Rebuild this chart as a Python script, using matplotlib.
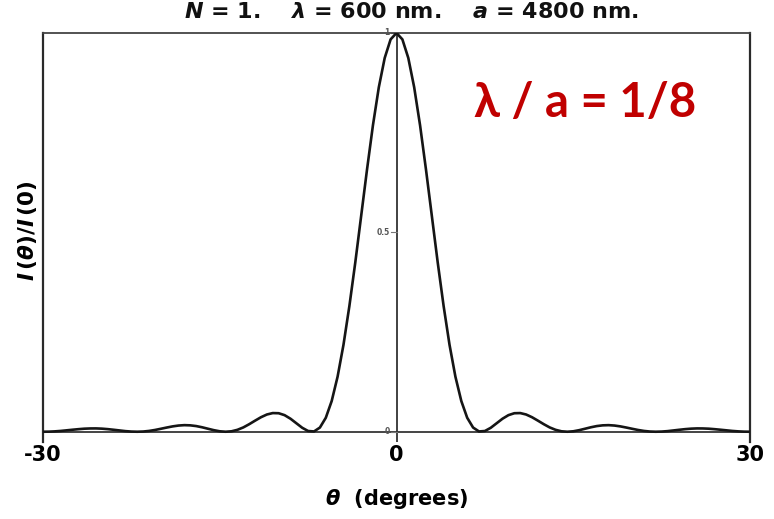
import numpy as np
import matplotlib
matplotlib.use("Agg")
import matplotlib.pyplot as plt

plt.rcParams['font.family'] = ['DejaVu Sans']
plt.rcParams['mathtext.fontset'] = 'custom'
plt.rcParams['mathtext.rm'] = 'DejaVu Sans:bold'
plt.rcParams['mathtext.it'] = 'DejaVu Sans:italic:bold'
plt.rcParams['mathtext.bf'] = 'DejaVu Sans:bold'

# angle (degrees), positive side; pattern is symmetric about 0
theta_pos = [0.0, 0.5, 1.0, 1.5, 2.0, 2.5, 3.0, 3.5, 4.0, 4.5, 5.0, 5.5, 6.0, 6.5,
             7.0, 7.5, 8.0, 8.5, 9.0, 9.5, 10.0, 10.5, 11.0, 11.5, 12.0, 12.5, 13.0,
             13.5, 14.0, 14.5, 15.0, 15.5, 16.0, 16.5, 17.0, 17.5, 18.0, 18.5, 19.0,
             19.5, 20.0, 20.5, 21.0, 21.5, 22.0, 22.5, 23.0, 23.5, 24.0, 24.5, 25.0,
             25.5, 26.0, 26.5, 27.0, 27.5, 28.0, 28.5, 29.0, 29.5, 30.0]
# normalised intensity I(theta)/I(0)
intensity_pos = [1.0, 0.984, 0.9375, 0.864, 0.7685, 0.658, 0.541, 0.424, 0.315, 0.218,
                 0.138, 0.077, 0.035, 0.0105, 0.0007, 0.0018, 0.0099, 0.0213, 0.0327,
                 0.0416, 0.0464, 0.0468, 0.0432, 0.0364, 0.0278, 0.0189, 0.0108, 0.0048,
                 0.0011, 0.0, 0.0011, 0.0039, 0.0075, 0.0112, 0.0142, 0.0160, 0.0165,
                 0.0155, 0.0134, 0.0105, 0.0074, 0.0044, 0.0020, 0.0005, 0.0, 0.0004,
                 0.0015, 0.0032, 0.0049, 0.0065, 0.0077, 0.0083, 0.0082, 0.0076, 0.0064,
                 0.0050, 0.0035, 0.0020, 0.0009, 0.0002, 0.0]

x_ticks = [-30, 0, 30]
x_ticklabels = ['-30', '0', '30']
inner_ticks = [0, 0.5, 1]
inner_ticklabels = ['0', '0.5', '1']

theta = [-t for t in theta_pos[::-1]] + theta_pos[1:]
intensity = intensity_pos[::-1] + intensity_pos[1:]

fig = plt.figure(figsize=(7.74, 5.19), dpi=100)
ax = fig.add_axes([43 / 774, 1 - 441.7 / 519, (750 - 43) / 774, (441.7 - 33) / 519])

ax.plot(theta, intensity, color='#151515', lw=1.9, solid_capstyle='round', zorder=3)
ax.set_xlim(-30, 30)
ax.set_ylim(-0.025, 1.0)

spine_col = '#2a2a2a'
for s in ['left', 'right']:
    ax.spines[s].set_color(spine_col)
    ax.spines[s].set_linewidth(1.6)
ax.spines['top'].set_color('#444444')
ax.spines['top'].set_linewidth(1.3)
ax.spines['bottom'].set_visible(False)
ax.axhline(0, color='#444444', lw=1.4, zorder=2)
ax.axvline(0, color='#333333', lw=1.3, zorder=2)

ax.set_xticks(x_ticks)
ax.set_xticklabels(x_ticklabels, fontsize=15, fontweight='bold')
ax.tick_params(axis='x', length=0, pad=2.5)
ax.set_yticks([])

for v, lab in zip(inner_ticks, inner_ticklabels):
    ax.plot([-0.45, 0], [v, v], color='#777777', lw=0.8, zorder=2)
    ax.text(-0.6, v, lab, ha='right', va='center', fontsize=5.5, color='#555555',
            fontweight='bold')

ax.set_xlabel(r'$\theta$  (degrees)', fontsize=15, fontweight='bold', labelpad=16)
ax.set_ylabel(r'$I\,(\theta)/I\,(0)$', fontsize=15.5, fontweight='bold')
ax.yaxis.set_label_coords(-0.006, 0.515)

fig.text(411 / 774, 1 - 18 / 519,
         r'$N$ = 1.    $\lambda$ = 600 nm.    $a$ = 4800 nm.',
         ha='center', va='baseline', fontsize=16, fontweight='bold', color='#111111')

fig.text(585 / 774, 1 - 103 / 519, 'λ / a = 1/8', ha='center', va='center',
         fontsize=34, fontweight='bold', color='#C00000', family=['Lato', 'DejaVu Sans'])

fig.savefig('out.png', dpi=100)
